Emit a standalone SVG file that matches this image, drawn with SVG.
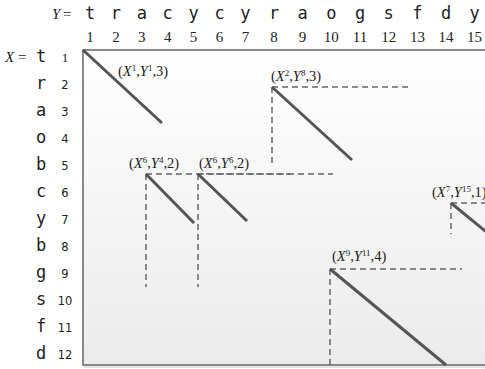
<svg xmlns="http://www.w3.org/2000/svg" width="485" height="369" viewBox="0 0 485 369">
<defs>
<linearGradient id="bg" x1="0" y1="0" x2="0" y2="1">
<stop offset="0" stop-color="#ffffff"/>
<stop offset="1" stop-color="#ebebeb"/>
</linearGradient>
<style>
.let{font-family:"DejaVu Sans Mono","Liberation Mono",monospace;font-size:17px;fill:#222;text-anchor:middle}
.hn{font-family:"Liberation Serif",serif;font-size:15px;fill:#222;text-anchor:middle}
.rn{font-family:"DejaVu Sans","Liberation Sans",sans-serif;font-size:11.5px;fill:#222;text-anchor:middle}
.ax{font-family:"Liberation Serif",serif;font-size:15px;fill:#222}
.lb{font-family:"Liberation Serif",serif;font-size:14.5px;fill:#222}
.sup{font-size:9px}
.diag{stroke:#555;stroke-width:3;fill:none}
.dash{stroke:#666;stroke-width:1.5;stroke-dasharray:6 4;fill:none}
</style>
</defs>
<rect x="0" y="0" width="485" height="369" fill="#ffffff"/>
<g id="frame">
<rect x="83" y="50" width="420" height="315" fill="url(#bg)" stroke="#666" stroke-width="1.5"/>
<line x1="84" y1="367" x2="490" y2="367" stroke="#ddd" stroke-width="1.5"/>
</g>
<g id="header-y">
<text class="ax" x="52" y="19" font-style="italic">Y</text><text class="ax" x="63" y="19">=</text>
<text class="let" y="19"><tspan x="90">t</tspan><tspan x="115.9">r</tspan><tspan x="141.8">a</tspan><tspan x="167.7">c</tspan><tspan x="193.6">y</tspan><tspan x="219.5">c</tspan><tspan x="245.4">y</tspan><tspan x="274">r</tspan><tspan x="302.6">a</tspan><tspan x="331.3">o</tspan><tspan x="360">g</tspan><tspan x="388.7">s</tspan><tspan x="417.4">f</tspan><tspan x="446.1">d</tspan><tspan x="474.5">y</tspan></text>
<text class="hn" y="42"><tspan x="90">1</tspan><tspan x="115.9">2</tspan><tspan x="141.8">3</tspan><tspan x="167.7">4</tspan><tspan x="193.6">5</tspan><tspan x="219.5">6</tspan><tspan x="245.4">7</tspan><tspan x="274">8</tspan><tspan x="302.6">9</tspan><tspan x="331.3">10</tspan><tspan x="360">11</tspan><tspan x="388.7">12</tspan><tspan x="417.4">13</tspan><tspan x="446.1">14</tspan><tspan x="474.5">15</tspan></text>
</g>
<g id="header-x">
<text class="ax" x="5" y="62" font-style="italic">X</text><text class="ax" x="18" y="62">=</text>
<text class="let"><tspan x="41" y="62">t</tspan><tspan x="41" y="89">r</tspan><tspan x="41" y="116">a</tspan><tspan x="41" y="143">o</tspan><tspan x="41" y="170">b</tspan><tspan x="41" y="197">c</tspan><tspan x="41" y="224">y</tspan><tspan x="41" y="251">b</tspan><tspan x="41" y="278">g</tspan><tspan x="41" y="305">s</tspan><tspan x="41" y="332">f</tspan><tspan x="41" y="359">d</tspan></text>
<text class="hn" x="65" y="62" style="font-size:13px">1</text>
<text class="rn"><tspan x="65" y="89">2</tspan><tspan x="65" y="116">3</tspan><tspan x="65" y="143">4</tspan><tspan x="65" y="170">5</tspan><tspan x="65" y="197">6</tspan><tspan x="65" y="224">7</tspan><tspan x="65" y="251">8</tspan><tspan x="65" y="278">9</tspan><tspan x="65" y="305">10</tspan><tspan x="65" y="332">11</tspan><tspan x="65" y="359">12</tspan></text>
</g>
<g id="connectors">
<line class="dash" x1="272" y1="87" x2="410" y2="87"/>
<line class="dash" x1="272" y1="87" x2="272" y2="163"/>
<line class="dash" x1="146" y1="174" x2="290" y2="174"/>
<line class="dash" x1="146" y1="174" x2="146" y2="287"/>
<line class="dash" x1="198" y1="174" x2="333" y2="174"/>
<line class="dash" x1="198" y1="174" x2="198" y2="287"/>
<line class="dash" x1="330" y1="269" x2="462" y2="269"/>
<line class="dash" x1="330" y1="269" x2="330" y2="365"/>
<line class="dash" x1="451" y1="203" x2="490" y2="203"/>
<line class="dash" x1="451" y1="203" x2="451" y2="234"/>
</g>
<g id="m1">
<line class="diag" x1="83" y1="50" x2="162" y2="123"/>
<text class="lb" x="118" y="76">(<tspan font-style="italic">X</tspan><tspan class="sup" dy="-5">1</tspan><tspan dy="5">,</tspan><tspan font-style="italic">Y</tspan><tspan class="sup" dy="-5">1</tspan><tspan dy="5">,3)</tspan></text>
</g>
<g id="m2">
<line class="diag" x1="272" y1="87" x2="352" y2="160"/>
<text class="lb" x="271" y="81">(<tspan font-style="italic">X</tspan><tspan class="sup" dy="-5">2</tspan><tspan dy="5">,</tspan><tspan font-style="italic">Y</tspan><tspan class="sup" dy="-5">8</tspan><tspan dy="5">,3)</tspan></text>
</g>
<g id="m3">
<line class="diag" x1="146" y1="174" x2="194" y2="223"/>
<text class="lb" x="129" y="168">(<tspan font-style="italic">X</tspan><tspan class="sup" dy="-5">6</tspan><tspan dy="5">,</tspan><tspan font-style="italic">Y</tspan><tspan class="sup" dy="-5">4</tspan><tspan dy="5">,2)</tspan></text>
</g>
<g id="m4">
<line class="diag" x1="198" y1="174" x2="247" y2="221"/>
<text class="lb" x="199" y="168">(<tspan font-style="italic">X</tspan><tspan class="sup" dy="-5">6</tspan><tspan dy="5">,</tspan><tspan font-style="italic">Y</tspan><tspan class="sup" dy="-5">6</tspan><tspan dy="5">,2)</tspan></text>
</g>
<g id="m5">
<line class="diag" x1="330" y1="269" x2="446" y2="365"/>
<text class="lb" x="332" y="261">(<tspan font-style="italic">X</tspan><tspan class="sup" dy="-5">9</tspan><tspan dy="5">,</tspan><tspan font-style="italic">Y</tspan><tspan class="sup" dy="-5">11</tspan><tspan dy="5">,4)</tspan></text>
</g>
<g id="m6">
<line class="diag" x1="451" y1="203" x2="490" y2="235"/>
<text class="lb" x="432" y="197">(<tspan font-style="italic">X</tspan><tspan class="sup" dy="-5">7</tspan><tspan dy="5">,</tspan><tspan font-style="italic">Y</tspan><tspan class="sup" dy="-5">15</tspan><tspan dy="5">,1)</tspan></text>
</g>
</svg>
